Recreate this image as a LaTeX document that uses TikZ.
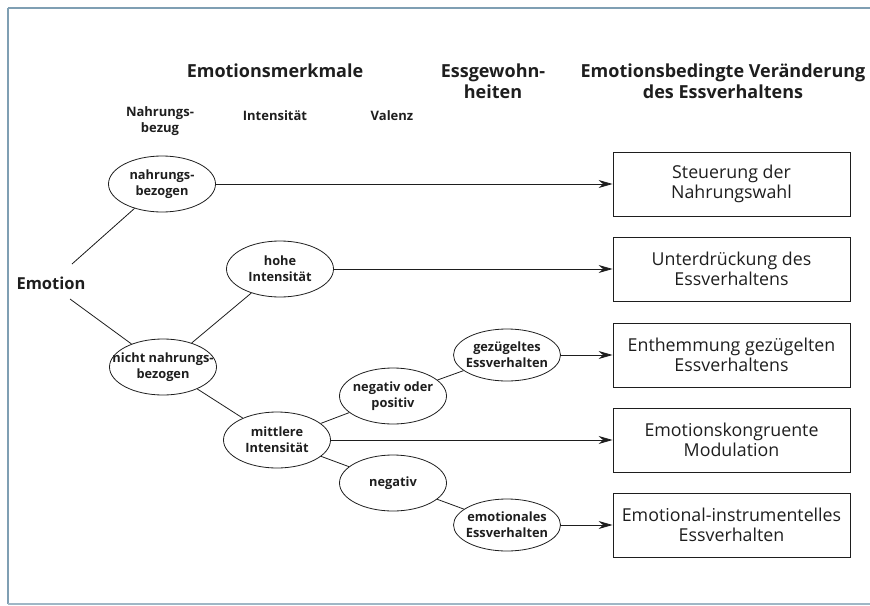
\documentclass[tikz,border=0pt]{standalone}
\usepackage{fontspec}
\setmainfont{Open Sans}
\usetikzlibrary{shapes.geometric,arrows.meta}
\definecolor{txt}{HTML}{1E1E1E}
\definecolor{framec}{HTML}{7F9FB3}
\begin{document}
\begin{tikzpicture}[x=1pt,y=-1pt,
 ell/.style={draw=txt, line width=0.8pt, ellipse, minimum width=107pt, minimum height=56pt, inner sep=0pt},
 lbl/.style={font=\fontsize{12.8}{16}\selectfont\bfseries, text=txt, align=center, inner sep=0pt},
 box/.style={draw=txt, line width=0.9pt, minimum width=237pt, minimum height=64pt, align=center, font=\fontsize{17.8}{20.5}\selectfont, text=txt},
 con/.style={draw=txt, line width=0.8pt},
 arr/.style={con, -{Stealth[length=14pt,width=8pt]}},
 head/.style={font=\fontsize{18}{20.5}\selectfont\bfseries, text=txt, align=center},
 sub/.style={font=\fontsize{13}{16}\selectfont\bfseries, text=txt, align=center}
]
\useasboundingbox (0,0) rectangle (870,605);
% frame
\draw[framec, line width=2.5pt] (8,604) -- (8,8);
\draw[framec, line width=2pt] (8,8) -- (870,8);
\draw[framec!75, line width=1.5pt] (8,604) -- (870,604);

% headers
\node[head] (h1) at (275,71) {Emotionsmerkmale};
\node[head] (h2) at (493,81) {Essgewohn-\\heiten};
\node[head] (h3) at (723,81) {Emotionsbedingte Veränderung\\des Essverhaltens};
\node[sub] (s1) at (160,121) {Nahrungs-\\bezug};
\node[sub] (s2) at (275,116) {Intensität};
\node[sub] (s3) at (392,116) {Valenz};

% root
\node[font=\fontsize{16.5}{20}\selectfont\bfseries, text=txt] (emo) at (51,283) {Emotion};
\coordinate (e1) at (72,264);
\coordinate (e2) at (70,299);

% ellipses
\node[ell, label={[lbl]center:{nahrungs-\\bezogen}}] (nb) at (162,184) {};
\node[ell, label={[lbl]center:{hohe\\Intensität}}] (hi) at (280,269) {};
\node[ell, label={[lbl]center:{nicht nahrungs-\\bezogen}}] (nnb) at (163,367) {};
\node[ell, label={[lbl]center:{mittlere\\Intensität}}] (mi) at (277,440) {};
\node[ell, label={[lbl]center:{negativ oder\\positiv}}] (nop) at (393,396) {};
\node[ell, label={[lbl]center:{negativ}}] (neg) at (393,483) {};
\node[ell, minimum height=52pt, label={[lbl]center:{gezügeltes\\Essverhalten}}] (gez) at (507,355) {};
\node[ell, minimum height=52pt, label={[lbl]center:{emotionales\\Essverhalten}}] (emv) at (507,525) {};

% boxes
\node[box] (b1) at (731.5,184) {Steuerung der\\Nahrungswahl};
\node[box] (b2) at (731.5,269) {Unterdrückung des\\Essverhaltens};
\node[box] (b3) at (731.5,355) {Enthemmung gezügelten\\Essverhaltens};
\node[box] (b4) at (731.5,440) {Emotionskongruente\\Modulation};
\node[box] (b5) at (731.5,525) {Emotional-instrumentelles\\Essverhalten};

% connectors
\draw[con] (e1) -- (nb);
\draw[con] (e2) -- (nnb);
\draw[con] (nnb) -- (hi);
\draw[con] (nnb) -- (mi);
\draw[con] (mi) -- (nop);
\draw[con] (mi) -- (neg);
\draw[con] (nop) -- (gez);
\draw[con] (neg) -- (emv);

% arrows
\draw[arr] (nb) -- (b1);
\draw[arr] (hi) -- (b2);
\draw[arr] (gez) -- (b3);
\draw[arr] (mi) -- (b4);
\draw[arr] (emv) -- (b5);
\end{tikzpicture}
\end{document}
